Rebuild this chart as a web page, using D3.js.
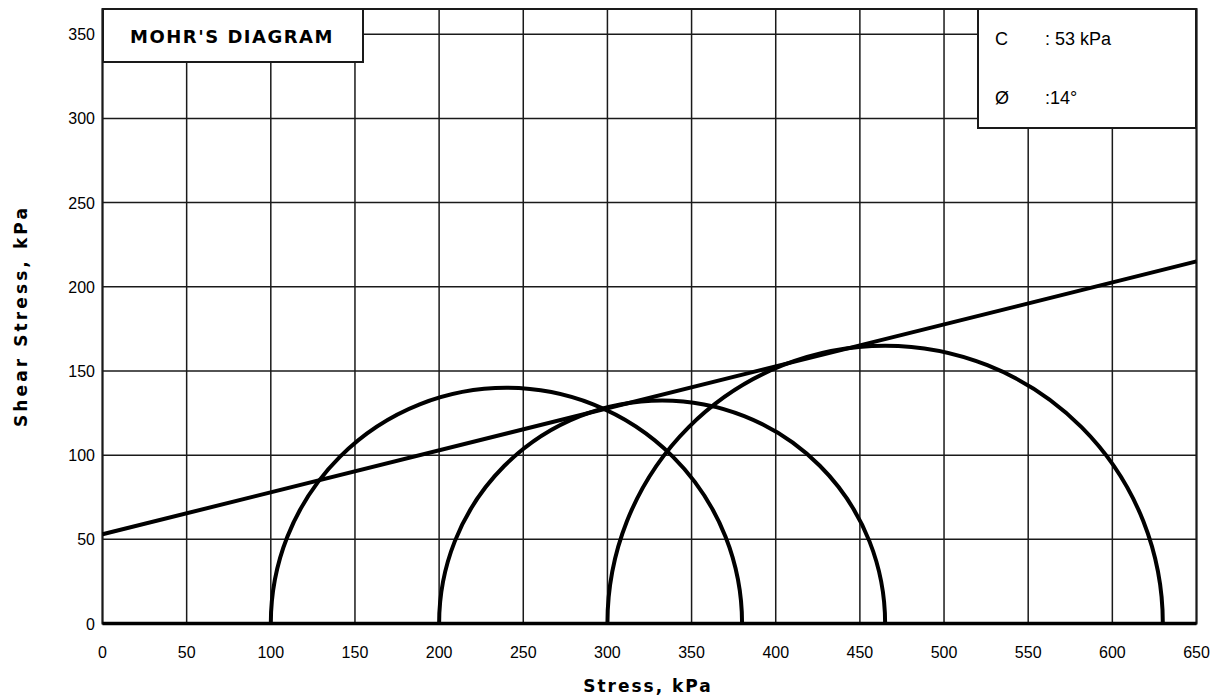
<!DOCTYPE html>
<html>
<head>
<meta charset="utf-8">
<script src="https://cdn.jsdelivr.net/npm/d3@7"></script>
<style>
  body { margin: 0; background: #fff; }
  text { font-family: "Liberation Sans", Arial, sans-serif; fill: #000; }
  .bold { font-family: "DejaVu Sans", sans-serif; font-weight: bold; }
</style>
</head>
<body>
<div id="chart"></div>
<script>
// Mohr circles: minor and major principal stress (kPa)
const sigma3 = [100, 200, 300];
const sigma1 = [380, 465, 630];
// strength envelope
const cohesion = 53;
const phiDeg = 14;
const xTicks = [0, 50, 100, 150, 200, 250, 300, 350, 400, 450, 500, 550, 600, 650];
const yTicks = [0, 50, 100, 150, 200, 250, 300, 350];

const W = 1223, H = 696;
const svg = d3.select("#chart").append("svg")
    .attr("width", W)
    .attr("height", H);

const x = d3.scaleLinear().domain([0, 650]).range([102.5, 1196.5]);
const y = d3.scaleLinear().domain([0, 365]).range([623.5, 9]);

// grid
svg.selectAll(".vgrid")
    .data(xTicks)
    .enter()
    .append("line")
    .attr("x1", d => x(d)).attr("x2", d => x(d))
    .attr("y1", y(0)).attr("y2", y(365))
    .attr("stroke", "#1a1a1a")
    .attr("stroke-width", 1.5);

svg.selectAll(".hgrid")
    .data(yTicks)
    .enter()
    .append("line")
    .attr("x1", x(0)).attr("x2", x(650))
    .attr("y1", d => y(d)).attr("y2", d => y(d))
    .attr("stroke", "#1a1a1a")
    .attr("stroke-width", 1.5);

// frame
svg.append("rect")
    .attr("x", x(0)).attr("y", y(365))
    .attr("width", x(650) - x(0))
    .attr("height", y(0) - y(365))
    .attr("fill", "none")
    .attr("stroke", "#1a1a1a")
    .attr("stroke-width", 2);

// tick labels
svg.selectAll(".xlab")
    .data(xTicks)
    .enter()
    .append("text")
    .attr("x", d => x(d))
    .attr("y", 658)
    .attr("text-anchor", "middle")
    .style("font-size", "16px")
    .text(d => d);

svg.selectAll(".ylab")
    .data(yTicks)
    .enter()
    .append("text")
    .attr("x", 95)
    .attr("y", d => y(d) + 6)
    .attr("text-anchor", "end")
    .style("font-size", "16px")
    .text(d => d);

// axis titles
svg.append("text")
    .attr("class", "bold")
    .attr("x", 648)
    .attr("y", 692)
    .attr("text-anchor", "middle")
    .style("font-size", "17px")
    .style("letter-spacing", "2px")
    .text("Stress, kPa");

svg.append("text")
    .attr("class", "bold")
    .attr("transform", "translate(27,316) rotate(-90)")
    .attr("text-anchor", "middle")
    .style("font-size", "17px")
    .style("letter-spacing", "3.1px")
    .text("Shear Stress, kPa");

// Mohr circles (upper halves)
const circles = sigma3.map((s3, i) => ({ s3: s3, s1: sigma1[i] }));
svg.selectAll(".circle")
    .data(circles)
    .enter()
    .append("path")
    .attr("d", d => {
        const r = (d.s1 - d.s3) / 2;
        const rx = x(r) - x(0);
        const ry = y(0) - y(r);
        return `M${x(d.s3)},${y(0)} A${rx},${ry} 0 0 1 ${x(d.s1)},${y(0)}`;
    })
    .attr("fill", "none")
    .attr("stroke", "#000")
    .attr("stroke-width", 4);

// failure envelope
const tanPhi = Math.tan(phiDeg * Math.PI / 180);
svg.append("line")
    .attr("x1", x(0)).attr("y1", y(cohesion))
    .attr("x2", x(650)).attr("y2", y(cohesion + 650 * tanPhi))
    .attr("stroke", "#000")
    .attr("stroke-width", 4);

// thick base line
svg.append("line")
    .attr("x1", x(0)).attr("x2", x(650))
    .attr("y1", y(0)).attr("y2", y(0))
    .attr("stroke", "#000")
    .attr("stroke-width", 3.5);

// title box
svg.append("rect")
    .attr("x", 103).attr("y", 9)
    .attr("width", 260).attr("height", 53)
    .attr("fill", "#fff")
    .attr("stroke", "#1a1a1a")
    .attr("stroke-width", 2);

svg.append("text")
    .attr("class", "bold")
    .attr("x", 232)
    .attr("y", 43)
    .attr("text-anchor", "middle")
    .style("font-size", "18px")
    .style("letter-spacing", "1.5px")
    .text("MOHR'S DIAGRAM");

// parameter box
svg.append("rect")
    .attr("x", 978).attr("y", 9)
    .attr("width", 218).attr("height", 119)
    .attr("fill", "#fff")
    .attr("stroke", "#1a1a1a")
    .attr("stroke-width", 2);

const params = [
    { label: "C", value: ": " + cohesion + " kPa", y: 45 },
    { label: "Ø", value: ":" + phiDeg + "°", y: 104 }
];
params.forEach(p => {
    svg.append("text")
        .attr("x", 995).attr("y", p.y)
        .style("font-size", "18px")
        .text(p.label);
    svg.append("text")
        .attr("x", 1045).attr("y", p.y)
        .style("font-size", "18px")
        .text(p.value);
});
</script>
</body>
</html>
